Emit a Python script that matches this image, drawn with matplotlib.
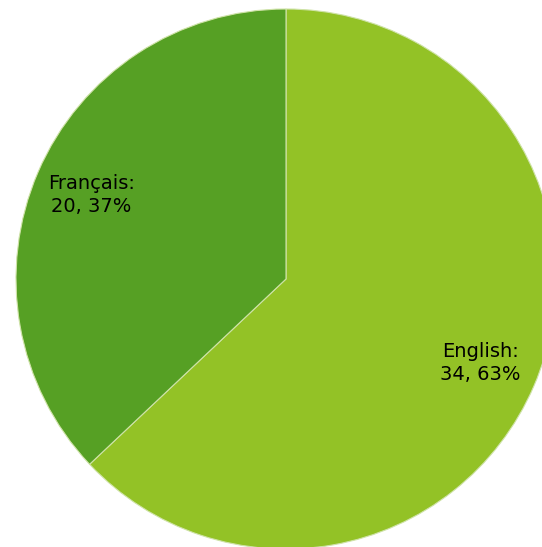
import matplotlib
matplotlib.use("Agg")
import matplotlib.pyplot as plt

categories = ["English", "Français"]
values = [34, 20]
colors = ["#93c226", "#56a024"]

W, H = 542, 547
cx, cy, R = 286, 279, 270

fig = plt.figure(figsize=(W / 100, H / 100), dpi=100)
ax = fig.add_axes([0, 0, 1, 1])
ax.axis("off")

total = sum(values)
labels = [f"{c}:\n{v}, {round(v / total * 100)}%" for c, v in zip(categories, values)]

wedges, texts = ax.pie(values, colors=colors, startangle=90, counterclock=False,
                       radius=1, labels=labels, labeldistance=0.785,
                       wedgeprops=dict(edgecolor="#cfe3a8", linewidth=0.8),
                       textprops=dict(fontsize=14, color="black", ha="center",
                                      va="center", family="DejaVu Sans",
                                      linespacing=1.3))
for t in texts:
    t.set_horizontalalignment("center")
    t.set_multialignment("center")

ax.set_xlim(-cx / R, (W - cx) / R)
ax.set_ylim(-(H - cy) / R, cy / R)
ax.set_aspect("equal")

fig.savefig("out.png", dpi=100)
